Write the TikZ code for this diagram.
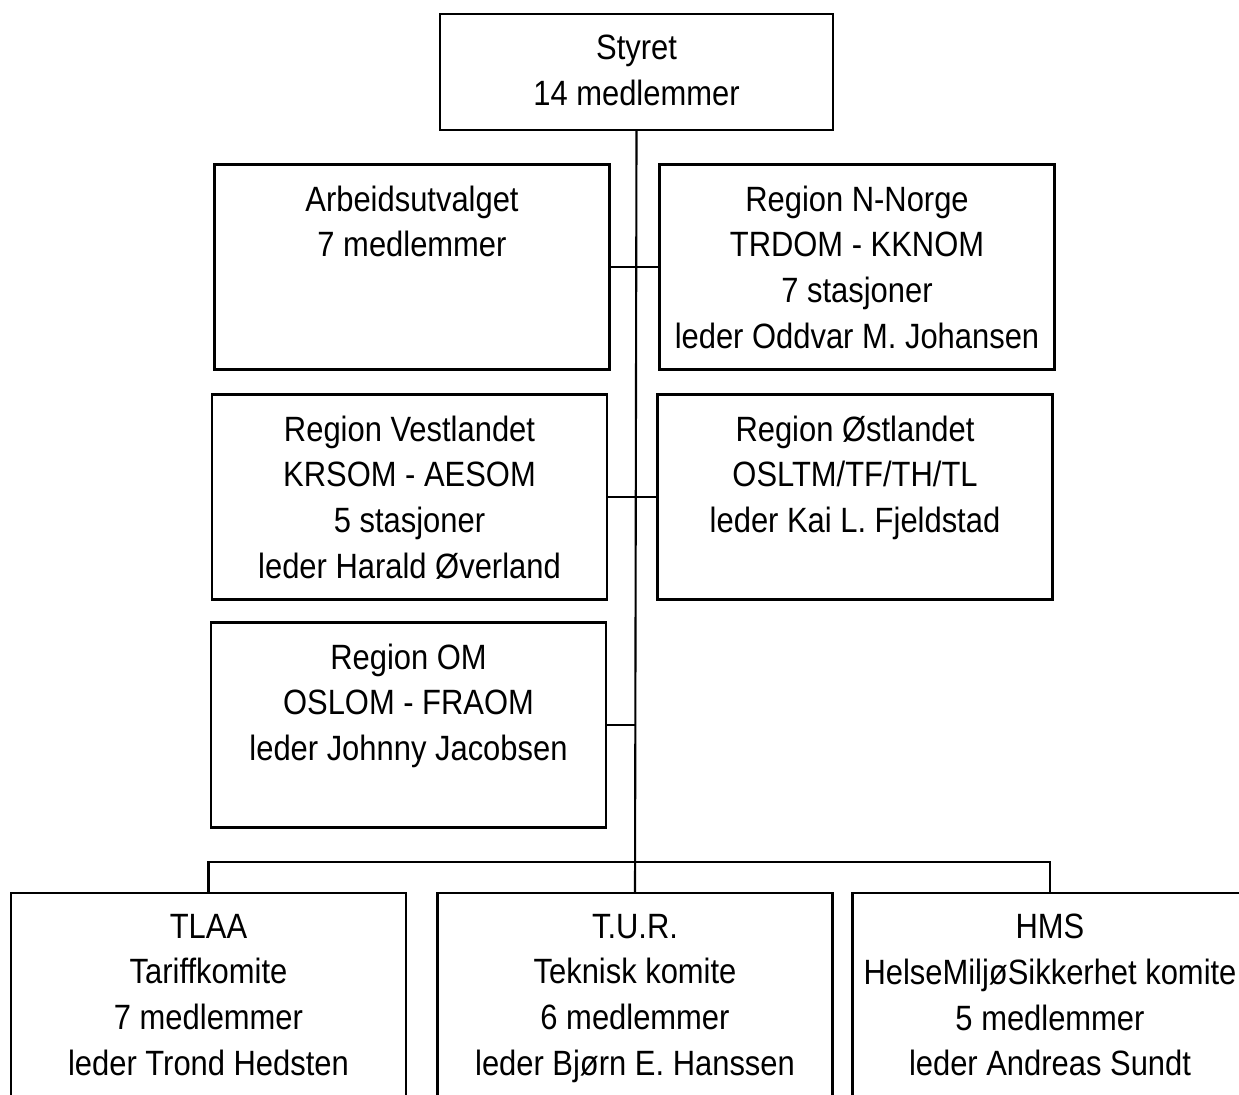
\documentclass[tikz,border=0pt]{standalone}
\usepackage{fontspec}
\setmainfont{Liberation Sans}[FakeStretch=0.88]
\usepackage{xcolor}
\usepackage{tikz}

\begin{document}
\begin{tikzpicture}[
  line width=1.2pt,
  orgbox/.style={draw, minimum width=7.9cm, minimum height=4.1cm, inner sep=0pt},
  boxtext/.style={anchor=north, align=center, inner sep=0pt, yshift=-12pt,
    font=\fontsize{20}{26}\selectfont}
]
\useasboundingbox (0,0) rectangle (24.78,-21.88);
\clip (0,0) rectangle (24.78,-21.88);

% top
\node[orgbox, minimum width=7.86cm, minimum height=2.32cm,
  label={[boxtext]north:Styret\\14 medlemmer}] (styret) at (12.73,-1.44) {};

% regions
\node[orgbox, label={[boxtext]north:Arbeidsutvalget\\7 medlemmer}] (arbeid) at (8.24,-5.34) {};
\node[orgbox, label={[boxtext]north:Region N-Norge\\TRDOM - KKNOM\\7 stasjoner\\leder Oddvar M. Johansen}] (nnorge) at (17.14,-5.34) {};
\node[orgbox, label={[boxtext]north:Region Vestlandet\\KRSOM - AESOM\\5 stasjoner\\leder Harald Øverland}] (vest) at (8.19,-9.94) {};
\node[orgbox, label={[boxtext]north:Region Østlandet\\OSLTM/TF/TH/TL\\leder Kai L. Fjeldstad}] (ost) at (17.10,-9.94) {};
\node[orgbox, label={[boxtext]north:Region OM\\OSLOM - FRAOM\\leder Johnny Jacobsen}] (om) at (8.17,-14.50) {};

% committees
\node[orgbox, label={[boxtext]north:TLAA\\Tariffkomite\\7 medlemmer\\leder Trond Hedsten}] (tlaa) at (4.17,-19.91) {};
\node[orgbox, label={[boxtext]north:T.U.R.\\Teknisk komite\\6 medlemmer\\leder Bjørn E. Hanssen}] (tur) at (12.70,-19.91) {};
\node[orgbox, label={[boxtext]north:HMS\\HelseMiljøSikkerhet komite\\5 medlemmer\\leder Andreas Sundt}] (hms) at (21.00,-19.91) {};

\coordinate (bus) at (12.70,-17.24);

\draw (styret.south) -- (tur.north);
\draw (arbeid.east) -- (nnorge.west);
\draw (vest.east) -- (ost.west);
\draw (om.east) -- (om.east -| tur.north);
\draw (tlaa.north) -- (tlaa.north |- bus) -- (hms.north |- bus) -- (hms.north);
\end{tikzpicture}
\end{document}
